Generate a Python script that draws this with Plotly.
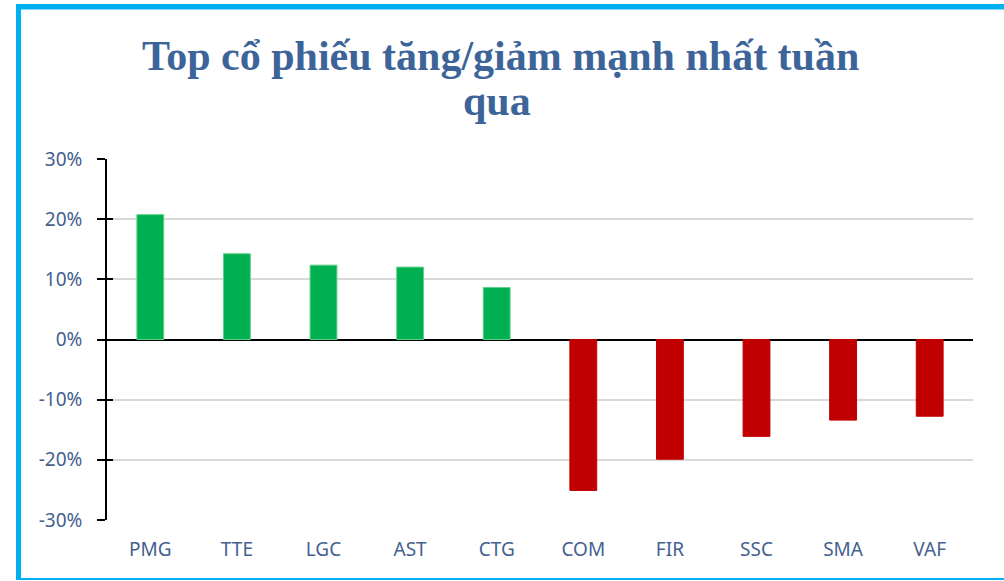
import plotly.graph_objects as go

categories = ["PMG", "TTE", "LGC", "AST", "CTG", "COM", "FIR", "SSC", "SMA", "VAF"]
changes = [0.2075, 0.1425, 0.1236, 0.1203, 0.0864, -0.2508, -0.199, -0.161, -0.134, -0.1275]
y_ticks = [-0.3, -0.2, -0.1, 0.0, 0.1, 0.2, 0.3]
y_tick_text = ["-30%", "-20%", "-10%", "0%", "10%", "20%", "30%"]
title_lines = ["Top cổ phiếu tăng/giảm mạnh nhất tuần", "qua"]

W, H = 1004, 581
L, R, T, B = 107, 973, 159, 520  # plot area pixels

def px(x):
    return (x - L) / (R - L)

def py(y):
    return (B - y) / (B - T)

colors = ["#00B050" if v >= 0 else "#C00000" for v in changes]
edge = ["#5FD08A" if v >= 0 else "#C00000" for v in changes]

fig = go.Figure()
fig.add_trace(go.Bar(x=categories, y=changes, marker=dict(color=colors, line=dict(color=edge, width=1)),
                     width=0.31, hoverinfo="x+y"))
fig.add_trace(go.Scatter(x=[categories[0]], y=[0], yaxis="y2", mode="markers",
                         marker=dict(opacity=0), showlegend=False, hoverinfo="skip"))

tick_font = dict(family="Noto Sans, Liberation Sans, sans-serif", size=19, color="#44618F")

fig.update_layout(
    width=W, height=H,
    margin=dict(l=L, r=W - R, t=T, b=H - B),
    paper_bgcolor="white", plot_bgcolor="white",
    showlegend=False,
    xaxis=dict(showgrid=False, zeroline=False, showline=False, ticks="",
               range=[-0.5, len(categories) - 0.5],
               tickfont=tick_font, ticklabelstandoff=16, fixedrange=True),
    yaxis=dict(range=[-0.3, 0.3], tickvals=y_ticks, ticktext=y_tick_text,
               showgrid=True, gridcolor="#D9D9D9", gridwidth=1.5,
               zeroline=True, zerolinecolor="black", zerolinewidth=1.6,
               showline=True, linecolor="black", linewidth=1.6,
               ticks="outside", ticklen=8, tickcolor="black", tickwidth=1.6,
               tickfont=tick_font, ticklabelstandoff=11, fixedrange=True),
    yaxis2=dict(range=[-0.3, 0.3], overlaying="y", side="left", tickvals=y_ticks,
                showgrid=False, zeroline=False, showline=False, showticklabels=False,
                ticks="inside", ticklen=6, tickcolor="black", tickwidth=1.6, fixedrange=True),
    bargap=0.69,
)

border = "#00B0F0"
fig.add_shape(type="rect", xref="paper", yref="paper", x0=px(16), x1=px(21), y0=py(580), y1=py(4),
              fillcolor=border, line=dict(width=0), layer="above")
fig.add_shape(type="rect", xref="paper", yref="paper", x0=px(16), x1=px(1010), y0=py(9.5), y1=py(4),
              fillcolor=border, line=dict(width=0), layer="above")
fig.add_shape(type="rect", xref="paper", yref="paper", x0=px(16), x1=px(1010), y0=py(580), y1=py(578),
              fillcolor=border, line=dict(width=0), layer="above")

title_font = dict(family="Liberation Serif, Times New Roman, serif", size=42, color="#3D6499")
fig.add_annotation(text="<b>%s</b>" % title_lines[0], xref="paper", yref="paper",
                   x=px(500), y=py(56), xanchor="center", yanchor="middle",
                   showarrow=False, font=title_font)
fig.add_annotation(text="<b>%s</b>" % title_lines[1], xref="paper", yref="paper",
                   x=px(497), y=py(101), xanchor="center", yanchor="middle",
                   showarrow=False, font=title_font)

fig.write_html("out.html")
